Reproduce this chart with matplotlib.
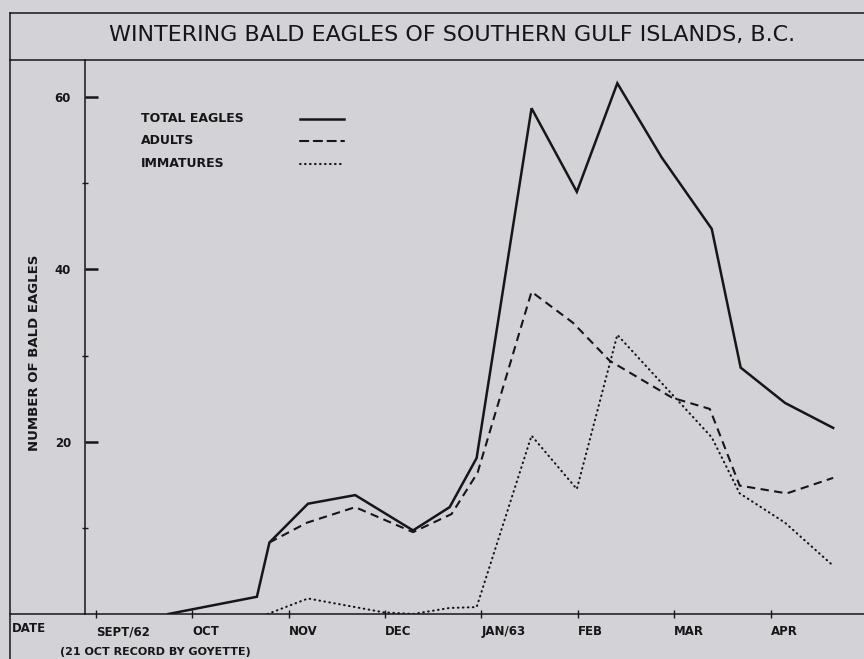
import matplotlib.pyplot as plt
from matplotlib.lines import Line2D

# x = months after 1 Sept 1962 (ticks evenly spaced on the original)
months = ["SEPT/62", "OCT", "NOV", "DEC", "JAN/63", "FEB", "MAR", "APR"]

total_x = [0.75, 1.67, 1.80, 2.20, 2.69, 3.29, 3.67, 3.95, 4.52, 4.99, 5.41, 5.87, 6.39, 6.69, 7.15, 7.65]
total_y = [0, 2, 8.3, 12.8, 13.8, 9.7, 12.4, 18.1, 58.7, 49.0, 61.6, 53.0, 44.7, 28.6, 24.5, 21.6]

adults_x = [1.80, 2.19, 2.69, 3.29, 3.69, 3.96, 4.52, 4.95, 5.33, 5.98, 6.37, 6.68, 7.17, 7.65]
adults_y = [8.3, 10.6, 12.4, 9.5, 11.6, 16.4, 37.4, 33.8, 29.4, 25.1, 23.8, 14.9, 14.0, 15.8]

imm_x = [1.78, 2.20, 2.69, 2.98, 3.29, 3.67, 3.95, 4.52, 4.99, 5.41, 6.39, 6.68, 7.15, 7.63]
imm_y = [0, 1.8, 0.8, 0.2, 0, 0.7, 0.8, 20.7, 14.5, 32.4, 20.5, 14.0, 10.6, 5.8]

bg = "#d3d2d7"
ink = "#161616"
W, H = 864, 659
dash = (0, (4, 2.6))
dots = (0, (0.3, 2.1))

fig = plt.figure(figsize=(8.64, 6.59), dpi=100, facecolor=bg)
ax = fig.add_axes([85 / W, 1 - 614 / H, 1 - 85 / W, (614 - 60) / H])
ax.set_facecolor(bg)

ax.plot(total_x, total_y, color=ink, lw=1.8, solid_joinstyle="miter")
ax.plot(adults_x, adults_y, color=ink, lw=1.5, linestyle=dash)
ax.plot(imm_x, imm_y, color=ink, lw=1.5, linestyle=dots, dash_capstyle="round")

ax.set_xlim(-0.114, 7.97)
ax.set_ylim(0, 64.3)

for s in ["top", "right"]:
    ax.spines[s].set_visible(False)
for s in ["left", "bottom"]:
    ax.spines[s].set_color(ink)
    ax.spines[s].set_linewidth(1.1)

# y axis: heavy inward major ticks, small crossing minor ticks
ax.set_yticks([20, 40, 60])
ax.set_yticklabels(["20", "40", "60"], fontsize=8.5, fontweight="bold", color=ink)
ax.set_yticks([10, 30, 50], minor=True)
ax.tick_params(axis="y", which="major", direction="in", length=9.5, width=1.8, pad=10, colors=ink)
ax.tick_params(axis="y", which="minor", direction="inout", length=4, width=1, colors=ink)

# x axis: small crossing ticks, labels start at the tick
ax.set_xticks(range(len(months)))
ax.set_xticklabels(months, fontsize=8.5, fontweight="bold", color=ink, ha="left")
ax.tick_params(axis="x", direction="inout", length=6, width=1, pad=5, colors=ink)

fig.text(35 / W, 1 - 353 / H, "NUMBER OF BALD EAGLES", rotation=90,
         fontsize=9.5, fontweight="bold", color=ink, va="center", ha="center")

# legend drawn by hand: labels left, keys right
leg_rows = [("TOTAL EAGLES", "-", 1.8, 119), ("ADULTS", dash, 1.5, 141),
            ("IMMATURES", dots, 1.5, 164)]
for label, ls, lw, py in leg_rows:
    fy = 1 - py / H
    fig.text(141 / W, fy, label, fontsize=9, fontweight="bold", color=ink, va="center")
    fig.add_artist(Line2D([300 / W, 344 / W], [fy, fy], color=ink, lw=lw, linestyle=ls,
                          dash_capstyle="round"))

# title box and frame
fig.text(452 / W, 1 - 35 / H, "WINTERING BALD EAGLES OF SOUTHERN GULF ISLANDS, B.C.",
         fontsize=16, color=ink, ha="center", va="center")
for xs, ys in [([10, W], [13, 13]), ([10, W], [60, 60]), ([10, 10], [13, H]), ([10, 85], [614, 614])]:
    fig.add_artist(Line2D([x / W for x in xs], [1 - y / H for y in ys], color=ink, lw=1.1))

fig.text(12 / W, 1 - 629 / H, "DATE", fontsize=8.5, fontweight="bold", color=ink, va="center")
fig.text(60 / W, 1 - 652 / H, "(21 OCT RECORD BY GOYETTE)", fontsize=8, fontweight="bold",
         color=ink, va="center")

fig.savefig("out.png", dpi=100, facecolor=bg)
